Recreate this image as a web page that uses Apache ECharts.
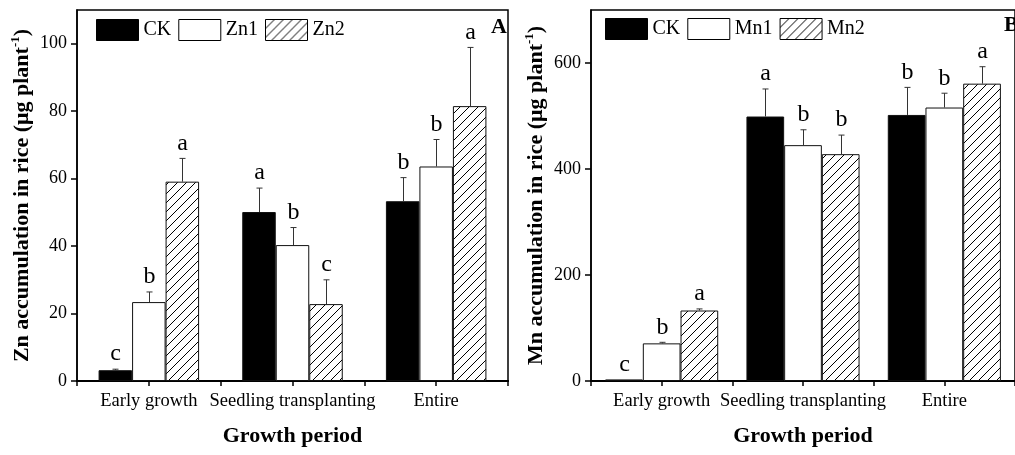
<!DOCTYPE html>
<html>
<head>
<meta charset="utf-8">
<script src="https://cdn.jsdelivr.net/npm/echarts@6/dist/echarts.min.js"></script>
<style>
  html, body { margin: 0; padding: 0; background: #fff; }
  #chart { width: 1015px; height: 455px; }
</style>
</head>
<body>
<div id="chart"></div>
<script>
const categories = ['Early growth', 'Seedling transplanting', 'Entire']
const znTicks = [0, 20, 40, 60, 80, 100]
const mnTicks = [0, 200, 400, 600]

// panel A - Zn
const znCK = [3.2, 50.1, 53.3]
const znCKErr = [0.3, 7.1, 7.0]
const znCKLetters = ['c', 'a', 'b']
const zn1 = [23.4, 40.3, 63.6]
const zn1Err = [3.0, 5.2, 8.0]
const zn1Letters = ['b', 'b', 'b']
const zn2 = [59.1, 22.8, 81.5]
const zn2Err = [6.9, 7.2, 17.4]
const zn2Letters = ['a', 'c', 'a']

// panel B - Mn
const mnCK = [3, 499, 502]
const mnCKErr = [0, 52, 52]
const mnCKLetters = ['c', 'a', 'b']
const mn1 = [71, 445, 516]
const mn1Err = [2, 29, 27]
const mn1Letters = ['b', 'b', 'b']
const mn2 = [133, 428, 561]
const mn2Err = [3, 36, 32]
const mn2Letters = ['a', 'b', 'a']

const FONT = '"Liberation Serif", "Times New Roman", serif'

function hatchPattern() {
  const c = document.createElement('canvas')
  c.width = 9
  c.height = 9
  const g = c.getContext('2d')
  g.fillStyle = '#fff'
  g.fillRect(0, 0, 9, 9)
  g.strokeStyle = '#000'
  g.lineWidth = 1
  g.beginPath()
  g.moveTo(0, 9); g.lineTo(9, 0)
  g.moveTo(-1, 1); g.lineTo(1, -1)
  g.moveTo(8, 10); g.lineTo(10, 8)
  g.stroke()
  return { image: c, repeat: 'repeat' }
}
const hatch = hatchPattern()

function barSeries(name, data, fill, barW, axisIdx) {
  return {
    name: name,
    type: 'bar',
    xAxisIndex: axisIdx.x,
    yAxisIndex: axisIdx.y,
    data: data,
    barWidth: barW,
    barGap: '0%',
    itemStyle: { color: fill, borderColor: '#111', borderWidth: 1 },
    emphasis: { disabled: true }
  }
}

// error bars + significance letters
function errorSeries(values, errs, letters, slot, barW, axisIdx) {
  return {
    type: 'custom',
    xAxisIndex: axisIdx.x,
    yAxisIndex: axisIdx.y,
    silent: true,
    z: 5,
    data: values.map((v, i) => [i, v, errs[i]]),
    renderItem(params, api) {
      const i = api.value(0)
      const v = api.value(1)
      const e = api.value(2)
      const p0 = api.coord([i, v])
      const p1 = api.coord([i, v + e])
      const x = Math.round(p0[0] + slot * barW) + 0.5
      const children = []
      if (e > 0) {
        children.push({
          type: 'line',
          shape: { x1: x, y1: p0[1], x2: x, y2: p1[1] },
          style: { stroke: '#333', lineWidth: 1 }
        })
        children.push({
          type: 'line',
          shape: { x1: x - 3, y1: p1[1], x2: x + 3, y2: p1[1] },
          style: { stroke: '#333', lineWidth: 1 }
        })
      }
      children.push({
        type: 'text',
        style: {
          text: letters[params.dataIndex],
          x: x,
          y: p1[1] - 3,
          align: 'center',
          verticalAlign: 'bottom',
          fontSize: 24,
          fontFamily: FONT,
          fill: '#000'
        }
      })
      return { type: 'group', children: children }
    }
  }
}

function xAxes(gridIndex) {
  return [
    {
      // ticks at the category centres, under the labels
      type: 'category',
      gridIndex: gridIndex,
      data: categories,
      position: 'bottom',
      axisLine: { lineStyle: { color: '#000', width: 2 } },
      axisTick: { show: true, alignWithLabel: true, interval: 0, length: 5, lineStyle: { color: '#000', width: 1.5 } },
      axisLabel: { color: '#000', fontFamily: FONT, fontSize: 18.5, margin: 11, interval: 0 },
      name: 'Growth period',
      nameLocation: 'middle',
      nameGap: 44,
      nameTextStyle: { color: '#000', fontFamily: FONT, fontSize: 22, fontWeight: 'bold' }
    },
    {
      // helper axis on the same line: ticks at the category boundaries
      type: 'value',
      gridIndex: gridIndex,
      position: 'bottom',
      min: 0,
      max: 3,
      interval: 1,
      splitLine: { show: false },
      axisLine: { show: true, lineStyle: { color: '#000', width: 2 } },
      axisTick: { show: true, length: 5, lineStyle: { color: '#000', width: 1.5 } },
      axisLabel: { show: false }
    }
  ]
}

function yAxis(gridIndex, max, ticks, name) {
  return {
    type: 'value',
    gridIndex: gridIndex,
    min: 0,
    max: max,
    splitLine: { show: false },
    axisLine: { show: true, lineStyle: { color: '#000', width: 1.5 } },
    axisTick: { show: true, length: 6, customValues: ticks, lineStyle: { color: '#000', width: 1.5 } },
    axisLabel: { color: '#000', fontFamily: FONT, fontSize: 18, margin: 10, customValues: ticks },
    name: name,
    nameLocation: 'middle',
    nameRotate: 90,
    nameGap: 42,
    nameTextStyle: {
      color: '#000', fontFamily: FONT, fontSize: 22, fontWeight: 'bold', lineHeight: 26,
      rich: {
        sup: { fontSize: 13, fontWeight: 'bold', fontFamily: FONT, color: '#000', verticalAlign: 'top', lineHeight: 14 }
      }
    }
  }
}

function legend(left, top, names) {
  return {
    left: left,
    top: top,
    orient: 'horizontal',
    data: names,
    icon: 'rect',
    itemWidth: 42,
    itemHeight: 21,
    itemGap: 7,
    selectedMode: false,
    itemStyle: { borderColor: '#000', borderWidth: 1 },
    textStyle: { color: '#000', fontFamily: FONT, fontSize: 20 }
  }
}

const chart = echarts.init(document.getElementById('chart'))
const A = { x: 0, y: 0 }
const B = { x: 2, y: 1 }
const wA = 33.5
const wB = 37.7

const option = {
  animation: false,
  backgroundColor: '#fff',
  grid: [
    { left: 77, top: 10, width: 431, height: 371, show: true, borderColor: '#000', borderWidth: 1.5 },
    { left: 591, top: 10, width: 432, height: 371, show: true, borderColor: '#000', borderWidth: 1.5 }
  ],
  legend: [
    legend(91, 14, ['CK', 'Zn1', 'Zn2']),
    legend(600, 13, ['CK', 'Mn1', 'Mn2'])
  ],
  xAxis: [...xAxes(0), ...xAxes(1)],
  yAxis: [
    yAxis(0, 110, znTicks, 'Zn accumulation in rice (μg plant{sup|-1})'),
    yAxis(1, 700, mnTicks, 'Mn accumulation in rice (μg plant{sup|-1})')
  ],
  graphic: [
    { type: 'text', left: 491, top: 16, style: { text: 'A', fontSize: 22, fontWeight: 'bold', fontFamily: FONT, fill: '#000' } },
    { type: 'text', left: 1004, top: 14, style: { text: 'B', fontSize: 22, fontWeight: 'bold', fontFamily: FONT, fill: '#000' } }
  ],
  series: [
    barSeries('CK', znCK, '#000', wA, A),
    barSeries('Zn1', zn1, '#fff', wA, A),
    barSeries('Zn2', zn2, hatch, wA, A),
    errorSeries(znCK, znCKErr, znCKLetters, -1, wA, A),
    errorSeries(zn1, zn1Err, zn1Letters, 0, wA, A),
    errorSeries(zn2, zn2Err, zn2Letters, 1, wA, A),
    barSeries('CK', mnCK, '#000', wB, B),
    barSeries('Mn1', mn1, '#fff', wB, B),
    barSeries('Mn2', mn2, hatch, wB, B),
    errorSeries(mnCK, mnCKErr, mnCKLetters, -1, wB, B),
    errorSeries(mn1, mn1Err, mn1Letters, 0, wB, B),
    errorSeries(mn2, mn2Err, mn2Letters, 1, wB, B)
  ]
}
chart.setOption(option)
</script>
</body>
</html>
